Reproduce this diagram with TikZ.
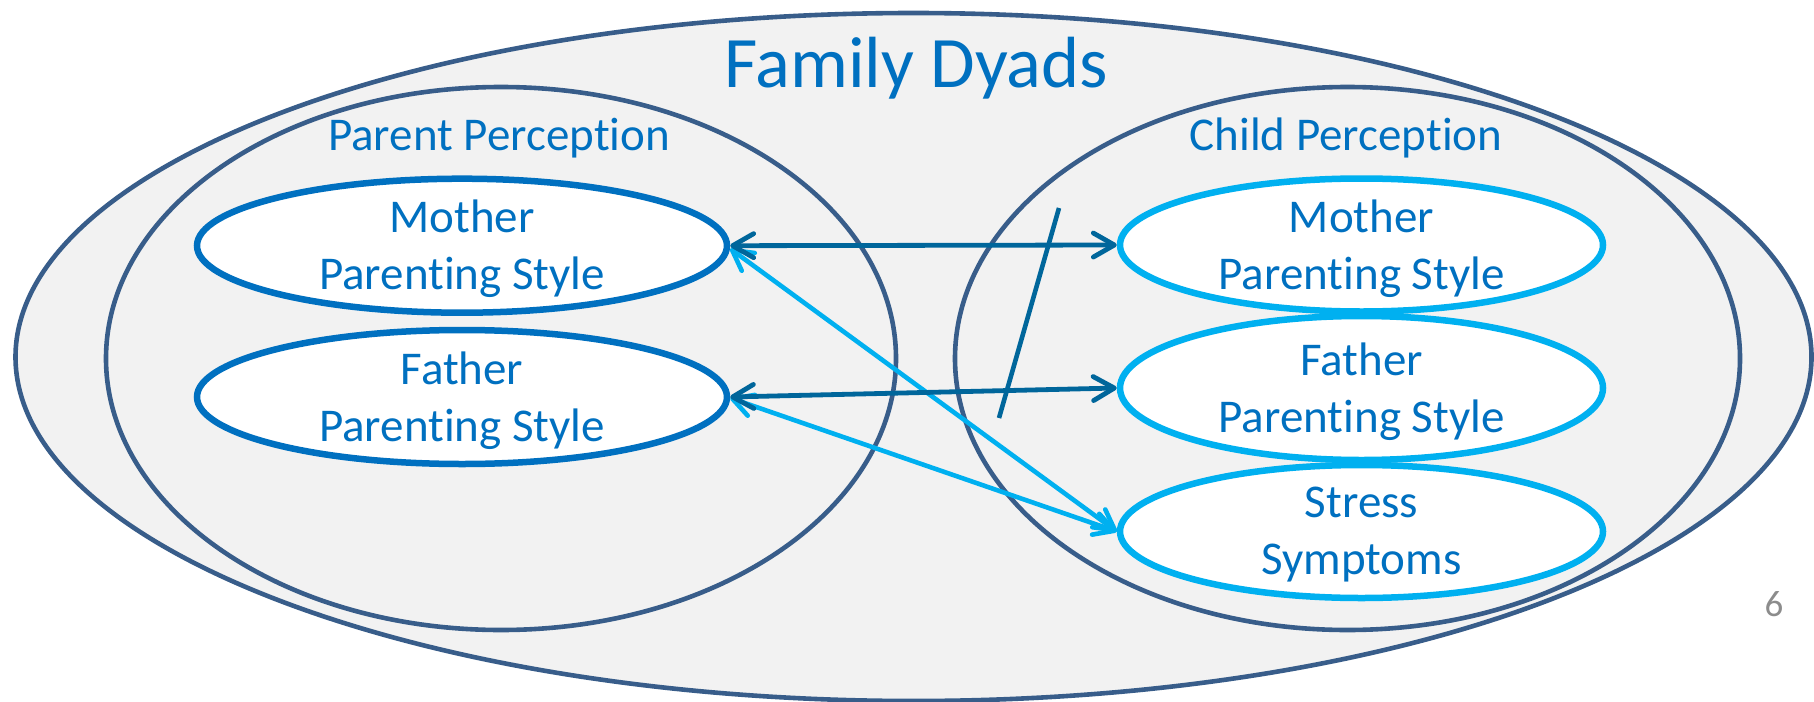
\documentclass[tikz,border=0pt]{standalone}
\usepackage{fontspec}
\setmainfont{Carlito}[Ligatures=NoCommon]
\usetikzlibrary{arrows.meta,shapes.geometric}
\definecolor{txtblue}{HTML}{0070C0}
\definecolor{grpline}{HTML}{385D8A}
\definecolor{grpfill}{HTML}{F2F2F2}
\definecolor{pblue}{HTML}{0070C0}
\definecolor{cblue}{HTML}{00B0F0}
\definecolor{darkarrow}{HTML}{00669B}
\definecolor{pgnum}{HTML}{8C8C8C}
\begin{document}
\begin{tikzpicture}[x=1pt,y=-1pt,
  grpfillst/.style={fill=grpfill},
  grpdraw/.style={draw=grpline, line width=4.6pt},
  pnode/.style={ellipse, draw=pblue, line width=6.5pt, fill=white, inner sep=0pt,
    minimum width=530pt, minimum height=134pt},
  cnode/.style={ellipse, draw=cblue, line width=6.5pt, fill=white, inner sep=0pt,
    minimum width=483pt, minimum height=133pt},
  ntext/.style={text=txtblue, font=\fontsize{47pt}{57pt}\selectfont, align=center, inner sep=0pt},
  darr/.style={draw=darkarrow, line width=4.8pt,
    >={Straight Barb[length=21pt,width=24pt,round]}, <->},
  larr/.style={draw=cblue, line width=4.6pt,
    >={Straight Barb[length=20pt,width=22pt,round]}, <->},
  slashline/.style={draw=darkarrow, line width=4.6pt}
]
\useasboundingbox (0,0) rectangle (1814,701);

% groups
\fill[grpfillst] (913.5,357) ellipse [x radius=898pt, y radius=344pt];
\draw[grpdraw] (913.5,357) ellipse [x radius=898pt, y radius=344pt];
\fill[grpfillst] (501,358.5) ellipse [x radius=395pt, y radius=271.5pt];
\fill[grpfillst] (1347.5,358.5) ellipse [x radius=392.5pt, y radius=271.5pt];
\draw[grpdraw] (501,358.5) ellipse [x radius=395pt, y radius=271.5pt];
\draw[grpdraw] (1347.5,358.5) ellipse [x radius=392.5pt, y radius=271.5pt];

% titles
\node[text=txtblue, font=\fontsize{72.5pt}{87pt}\selectfont, anchor=base, inner sep=0pt] (title) at (916,87) {Family Dyads};
\node[ntext, anchor=base] (pp) at (499,150) {Parent Perception};
\node[ntext, anchor=base] (cp) at (1346,150) {Child Perception};

% nodes
\node[pnode] (mp) at (462,245.7) {};
\node[pnode] (fp) at (462,397) {};
\node[cnode] (mc) at (1361.5,245) {};
\node[cnode, minimum height=144pt] (fc) at (1361.5,388) {};
\node[cnode] (st) at (1361.5,531.5) {};

\node[ntext] (mpt) at ([yshift=-3.5pt]mp.center) {Mother\\Parenting Style};
\node[ntext] (fpt) at ([yshift=-3.5pt]fp.center) {Father\\Parenting Style};
\node[ntext] (mct) at ([yshift=-3.5pt]mc.center) {Mother\\Parenting Style};
\node[ntext] (fct) at ([yshift=-3.5pt]fc.center) {Father\\Parenting Style};
\node[ntext] (stt) at ([yshift=-3.5pt]st.center) {Stress\\Symptoms};

% connectors
\draw[larr] ([yshift=-3pt]mp.east) -- (st.west);
\draw[larr] ([yshift=-1pt]fp.east) -- (st.west);
\draw[darr] (mp.east) -- (mc.west);
\draw[darr] (fp.east) -- (fc.west);
\draw[slashline] (1059,208) -- (999,418);

% page number
\node[text=pgnum, font=\fontsize{37pt}{44pt}\selectfont, anchor=base, inner sep=0pt] (pg) at (1774,616) {6};
\end{tikzpicture}
\end{document}
